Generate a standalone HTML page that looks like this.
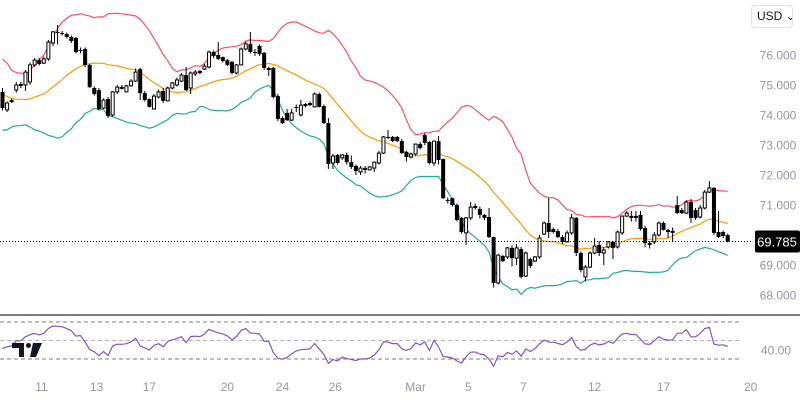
<!DOCTYPE html>
<html><head><meta charset="utf-8">
<style>
html,body{margin:0;padding:0;background:#fff;width:800px;height:400px;overflow:hidden;font-family:"Liberation Sans",sans-serif}
#wrap{position:relative;width:800px;height:400px}
svg{position:absolute;left:0;top:0}
#usd{position:absolute;left:751px;top:5px;width:42px;height:23px;border:1px solid #e0e3eb;border-radius:4px;box-sizing:border-box;font-size:12px;line-height:21px;color:#131722;padding-left:5px;background:#fff;white-space:nowrap;overflow:hidden}
</style></head>
<body>
<div id="wrap">
<svg id="chart" width="800" height="400"></svg>
<div id="usd">USD ⌄</div>
</div>
<script>
const priorCloses=[75.6,75.9,75.4,75.1,75.6,75.2,74.7,74.5,74.9,74.3,74.0,74.6,74.1,73.8,74.3,74.0,74.6,74.2,74.5];
const opens=[74.77,74.17,74.47,74.83,75.0,75.00,75.10,75.67,75.83,75.73,75.87,76.40,76.77,76.73,76.70,76.60,76.57,76.17,76.20,75.67,74.90,74.83,74.23,74.53,74.00,74.77,74.9,74.77,74.97,75.13,75.53,74.73,74.53,74.20,74.60,74.80,74.47,74.90,75.00,75.13,75.33,74.90,75.37,75.47,
75.53,75.60,76.10,76.00,75.93,75.83,75.77,75.40,75.67,76.20,76.37,76.10,76.30,76.07,75.53,75.57,74.63,73.90,74.07,73.83,74.27,74.00,74.33,74.37,74.27,74.70,74.30,73.73,72.40,72.67,72.57,72.67,72.43,72.30,72.10,72.2,72.17,72.23,72.40,72.73,73.27,73.27,73.27,73.13,72.77,72.60,72.70,73.03,73.33,73.10,72.40,73.13,72.53,
71.17,71.23,71.00,70.57,70.07,70.57,70.93,70.87,70.67,70.60,69.93,68.40,69.30,69.27,69.57,69.23,69.53,68.63,69.20,69.13,69.27,70.03,70.40,70.20,70.13,69.93,69.77,70.07,70.57,69.40,
68.60,68.93,69.40,69.67,69.40,69.60,69.77,69.60,70.07,70.63,70.6,70.6,70.67,70.23,69.73,69.77,70.00,70.40,70.17,70.1,71.00,70.83,70.73,71.10,70.83,70.60,70.90,71.43,71.57,70.10,70.10,70.00];
const highs=[74.9,74.45,74.55,75.1,75.1,75.5,75.75,75.9,75.9,75.95,76.5,76.8,77.0,76.8,76.75,76.65,76.6,76.25,76.25,75.7,74.95,74.9,74.55,74.6,74.8,75.0,75.0,75.0,75.2,75.55,75.57,74.8,74.55,74.7,74.85,74.9,74.95,75.1,75.25,75.4,75.6,75.45,75.5,75.5,
75.7,76.15,76.15,76.43,75.95,75.87,75.8,75.7,76.25,76.45,76.77,76.2,76.35,76.1,75.6,75.6,74.7,73.95,74.2,74.2,74.35,74.5,74.4,74.45,74.75,74.75,74.35,73.9,72.7,72.7,72.7,72.75,72.65,72.35,72.3,72.3,72.3,72.45,72.8,73.3,73.5,73.3,73.3,73.2,72.8,72.75,73.05,73.1,73.4,73.13,73.15,73.3,72.55,
71.25,71.25,71.05,70.6,70.6,71.1,71.05,70.95,70.7,70.9,69.95,69.37,69.33,69.6,69.65,69.7,69.6,69.45,69.25,69.3,70.0,70.45,71.23,70.25,70.2,70.0,70.15,70.7,70.6,69.45,
69.0,69.45,69.9,69.8,69.6,69.8,69.8,70.15,70.65,70.8,70.8,70.8,70.8,70.3,69.8,70.1,70.45,70.45,70.2,70.25,71.3,70.9,71.15,71.2,70.9,71.0,71.5,71.8,71.6,70.8,70.15,70.05];
const lows=[74.15,74.1,74.40,74.75,74.9,74.8,75.0,75.6,75.65,75.7,75.8,76.3,76.35,76.65,76.55,76.4,76.05,76.05,75.6,74.9,74.65,74.15,74.2,73.9,73.95,74.7,74.85,74.75,74.95,75.1,74.5,74.45,74.25,74.2,74.55,74.4,74.45,74.85,74.95,75.1,74.8,74.7,75.3,75.35,
75.5,75.55,75.9,75.83,75.75,75.63,75.35,75.35,75.65,76.15,76.05,75.97,75.97,75.5,75.3,74.55,73.8,73.7,73.8,73.8,74.1,73.95,74.25,74.3,74.25,74.25,73.7,72.2,72.2,72.35,72.5,72.35,72.2,72.0,72.0,72.05,72.15,72.1,72.35,72.7,73.2,73.1,73.1,72.7,72.45,72.55,72.65,72.85,73.0,72.35,72.3,72.35,71.2,
71.05,70.95,70.45,70.05,69.67,70.5,70.85,70.55,70.5,69.9,68.25,68.35,69.1,69.2,68.95,69.0,68.55,68.6,68.9,69.1,69.2,70.0,69.9,70.05,69.9,69.7,69.75,70.0,69.3,68.75,
68.45,68.9,69.35,69.3,69.0,69.55,69.2,69.55,70.0,70.6,70.45,70.45,70.15,69.6,69.55,69.7,69.95,70.15,69.9,69.8,70.7,70.7,70.7,70.4,70.5,70.55,70.85,71.4,70.0,69.9,69.9,69.75];
const closes=[74.23,74.40,74.48,75.00,75.02,75.43,75.67,75.83,75.70,75.87,76.43,76.77,76.75,76.72,76.60,76.47,76.10,76.15,75.67,74.93,74.70,74.20,74.50,73.97,74.77,74.93,74.92,74.97,75.13,75.43,74.73,74.50,74.27,74.63,74.77,74.47,74.90,75.07,75.17,75.33,74.83,75.40,75.43,75.40,
75.63,76.10,75.97,75.87,75.80,75.67,75.40,75.67,76.20,76.37,76.10,76.08,76.03,75.57,75.55,74.60,73.87,73.73,73.83,74.07,74.25,74.33,74.35,74.38,74.70,74.27,73.73,72.37,72.63,72.40,72.67,72.43,72.27,72.13,72.23,72.22,72.27,72.43,72.73,73.27,73.25,73.13,73.13,72.73,72.60,72.70,73.03,72.90,73.07,72.40,73.13,72.50,71.23,
71.15,71.00,70.50,70.10,70.57,70.93,70.95,70.67,70.57,69.93,68.40,69.33,69.13,69.57,69.23,69.57,68.60,69.40,68.97,69.27,69.90,70.40,70.10,70.10,69.93,69.77,70.07,70.57,69.40,68.83,
68.93,69.40,69.63,69.40,69.50,69.77,69.57,70.10,70.63,70.73,70.62,70.62,70.20,69.73,69.67,70.00,70.40,70.17,70.10,70.12,70.73,70.73,71.10,70.57,70.57,70.90,71.43,71.57,70.07,69.93,69.97,69.785];
const priceTicks=[76,75,74,73,72,71,70,69,68];
const rsiLevels=[70,50,30];
const rsiTick=[40];
const dateLabels=["11","13","17","20","24","26","Mar","5","7","12","17","20"];
const dateIdx=[8.5,20.5,32,49,61,72.5,90,101.5,113.5,129,144,163];

const NS="http://www.w3.org/2000/svg";
const svg=document.getElementById('chart');
function mk(tag,attrs,parent){const e=document.createElementNS(NS,tag);for(const k in attrs)e.setAttribute(k,attrs[k]);(parent||svg).appendChild(e);return e;}
const yP=p=>55+(76-p)*30;
const xI=i=>2.5+i*4.59;
const yR=v=>322+(70-v)*0.925;

priceTicks.forEach(p=>{
  const t=mk('text',{x:778,y:yP(p)+4.5,'text-anchor':'middle','font-size':12,fill:'#9598a1','font-family':'Liberation Sans, sans-serif'});
  t.textContent=p.toFixed(3);
  
  
});
const all=priorCloses.concat(closes);const off=priorCloses.length;
const up=[],mid=[],lo=[];
for(let i=0;i<closes.length;i++){const w=all.slice(i+off-19,i+off+1);const m=w.reduce((a,b)=>a+b,0)/w.length;const sd=Math.sqrt(w.reduce((a,b)=>a+(b-m)*(b-m),0)/w.length);mid.push(m);up.push(m+2*sd);lo.push(m-2*sd);}
function line(arr,col,name,yf){const d=arr.map((v,i)=>(i?'L':'M')+xI(i).toFixed(1)+' '+yf(v).toFixed(1)).join(' ');const p=mk('path',{d:d,fill:'none',stroke:col,'stroke-width':1.2});return p;}
line(up,'#f7525f','bollinger-upper',yP);
line(mid,'#ff9800','bollinger-basis',yP);
line(lo,'#22ab94','bollinger-lower',yP);
for(let i=0;i<closes.length;i++){
  const x=xI(i),o=opens[i],c=closes[i];
  const g=mk('g',{});
  
  
  mk('line',{x1:x,x2:x,y1:yP(highs[i]),y2:yP(lows[i]),stroke:'#000','stroke-width':1},g);
  const top=yP(Math.max(o,c)),bot=yP(Math.min(o,c));const h=Math.max(bot-top,1);
  if(c>=o) mk('rect',{x:x-1.5,y:top,width:3,height:h,fill:'#fff',stroke:'#000','stroke-width':1},g);
  else mk('rect',{x:x-2,y:top,width:4,height:h,fill:'#000'},g);
}
const last=closes[closes.length-1];
const pl=mk('line',{x1:0,x2:752,y1:yP(last),y2:yP(last),stroke:'#000','stroke-width':1,'stroke-dasharray':'1 2'});


const pb=mk('rect',{x:755,y:yP(last)-11,width:45,height:22,fill:'#000',rx:2});


const pt=mk('text',{x:777,y:yP(last)+5,'text-anchor':'middle','font-size':13,fill:'#fff','font-family':'Liberation Sans, sans-serif'});
pt.textContent=last.toFixed(3);


const sep=mk('line',{x1:0,x2:800,y1:315,y2:315,stroke:'#2a2e39','stroke-width':1.3});


rsiLevels.forEach((v,k)=>{const l=mk('line',{x1:0,x2:740,y1:yR(v),y2:yR(v),stroke:k==1?'#b2b5be':'#787b86','stroke-width':1,'stroke-dasharray':'4 3'});});
rsiTick.forEach(v=>{const t=mk('text',{x:776,y:yR(v)+4.5,'text-anchor':'middle','font-size':12,fill:'#9598a1','font-family':'Liberation Sans, sans-serif'});t.textContent=v.toFixed(2);});
const rs=[];let ag=0,al=0;const n=14;
for(let i=1;i<all.length;i++){const ch=all[i]-all[i-1];const g=Math.max(ch,0),l=Math.max(-ch,0);
 if(i<=n){ag+=g/n;al+=l/n;}else{ag=(ag*(n-1)+g)/n;al=(al*(n-1)+l)/n;}
 if(i-off>=0)rs.push(al===0?100:100-100/(1+ag/al));}
const rsiVals=rs;
line(rsiVals,'#7e57c2','rsi-line',yR);
dateLabels.forEach((s,k)=>{const t=mk('text',{x:xI(dateIdx[k]),y:391,'text-anchor':'middle','font-size':12,fill:'#9598a1','font-family':'Liberation Sans, sans-serif'});t.textContent=s;});
const lg=mk('g',{});


mk('path',{d:'M12 343 H24 V357 H19 V348 H12 Z',fill:'#131722'},lg);
mk('circle',{cx:28.5,cy:345.5,r:2.5,fill:'#131722'},lg);
mk('path',{d:'M33 343 H42 L36 357 H30 Z',fill:'#131722'},lg);
</script>
</body></html>
